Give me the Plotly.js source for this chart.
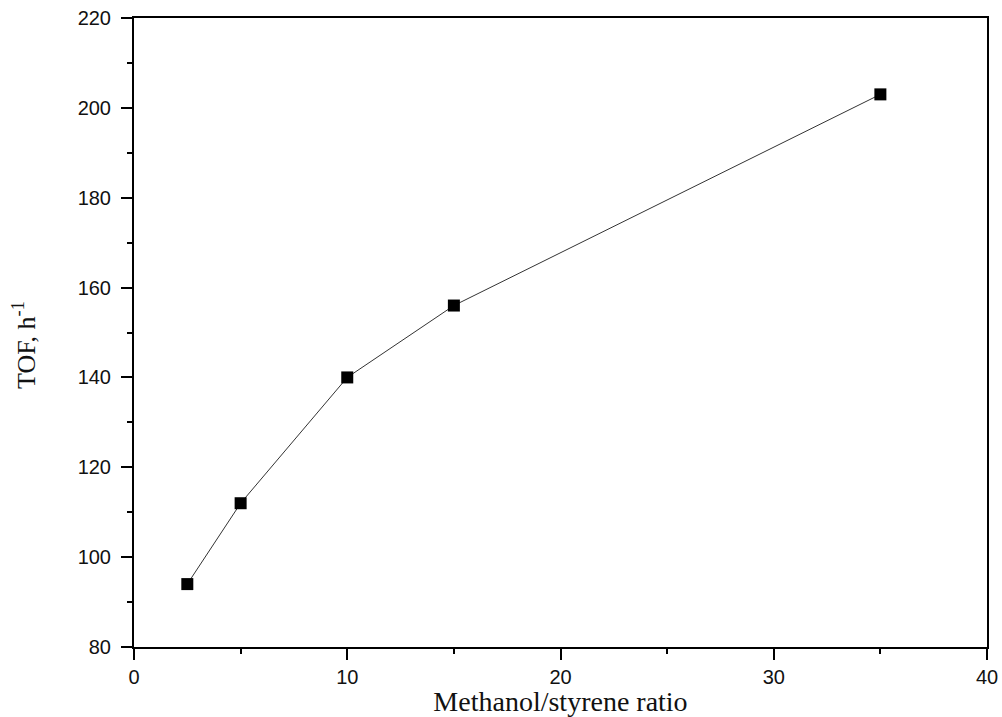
<!DOCTYPE html>
<html>
<head>
<meta charset="utf-8">
<script src="https://cdn.plot.ly/plotly-3.0.1.min.js"></script>
<style>html,body{margin:0;padding:0;background:#fff;}#chart{width:1002px;height:717px;}</style>
</head>
<body>
<div id="chart"></div>
<script>
const ratio = [2.5, 5, 10, 15, 35];
const tof = [94, 112, 140, 156, 203];
const xTicks = [0, 10, 20, 30, 40];
const yTicks = [80, 100, 120, 140, 160, 180, 200, 220];

const trace = {
  x: ratio, y: tof, type: 'scatter', mode: 'lines+markers',
  line: {color: '#333', width: 1},
  marker: {symbol: 'square', size: 12, color: '#000'}
};
const tickFont = {family: 'Liberation Sans, Arial, sans-serif', size: 20, color: '#111'};
const serif = 'Liberation Serif, Times New Roman, serif';
const layout = {
  width: 1002, height: 717,
  margin: {l: 134, r: 15, t: 18, b: 70},
  paper_bgcolor: '#fff', plot_bgcolor: '#fff',
  showlegend: false,
  xaxis: {
    range: [0, 40], tickvals: xTicks, ticktext: xTicks.map(String),
    showgrid: false, zeroline: false, showline: true, mirror: true,
    linecolor: '#000', linewidth: 2, ticks: 'outside', ticklen: 11, tickwidth: 2, tickcolor: '#000',
    tickfont: tickFont,
    minor: {dtick: 5, tick0: 0, ticks: 'outside', ticklen: 5, tickwidth: 2, tickcolor: '#000', showgrid: false},
    title: {text: 'Methanol/styrene ratio', font: {family: serif, size: 28, color: '#111'}, standoff: 7}
  },
  yaxis: {
    range: [80, 220], tickvals: yTicks, ticktext: yTicks.map(String),
    showgrid: false, zeroline: false, showline: true, mirror: true,
    linecolor: '#000', linewidth: 2, ticks: 'outside', ticklen: 11, tickwidth: 2, tickcolor: '#000',
    tickfont: tickFont, ticklabelstandoff: 6,
    minor: {dtick: 10, tick0: 80, ticks: 'outside', ticklen: 5, tickwidth: 2, tickcolor: '#000', showgrid: false}
  },
  annotations: [{
    text: 'TOF, h<sup>-1</sup>', textangle: -90, showarrow: false,
    xref: 'paper', yref: 'paper', x: (24 - 134) / 853, y: (647 - 345) / 629,
    xanchor: 'center', yanchor: 'middle',
    font: {family: serif, size: 26, color: '#111'}
  }]
};
Plotly.newPlot('chart', [trace], layout, {displayModeBar: false, staticPlot: true});
</script>
</body>
</html>
